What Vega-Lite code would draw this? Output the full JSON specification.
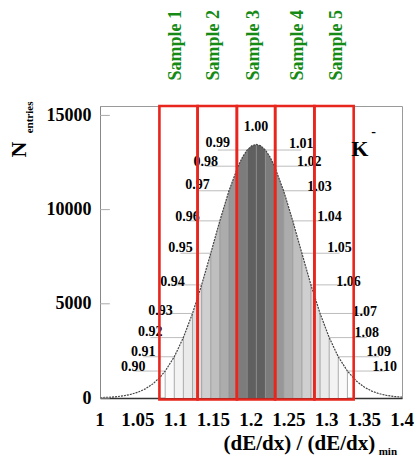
{
  "$schema": "https://vega.github.io/schema/vega-lite/v6.json",
  "width": 302,
  "height": 292,
  "autosize": {"type": "none"},
  "padding": {"left": 100, "top": 106, "right": 17, "bottom": 71},
  "background": "white",
  "config": {
    "view": {"stroke": "#9a9a9a", "strokeWidth": 1},
    "font": "Liberation Serif",
    "axis": {"labelFont": "Liberation Serif", "labelFontWeight": "bold", "labelColor": "#000", "grid": false, "ticks": false}
  },
  "datasets": {
    "curve": [
      {"x": 1.00, "y": 18}, {"x": 1.01, "y": 34}, {"x": 1.02, "y": 62}, {"x": 1.03, "y": 108},
      {"x": 1.04, "y": 184}, {"x": 1.05, "y": 303}, {"x": 1.06, "y": 484}, {"x": 1.07, "y": 749},
      {"x": 1.08, "y": 1125}, {"x": 1.0863, "y": 1430}, {"x": 1.0984, "y": 2189}, {"x": 1.1104, "y": 3206},
      {"x": 1.1225, "y": 4487}, {"x": 1.1346, "y": 6005}, {"x": 1.1467, "y": 7685}, {"x": 1.1587, "y": 9403},
      {"x": 1.1708, "y": 11000}, {"x": 1.1829, "y": 12305}, {"x": 1.1889, "y": 12798}, {"x": 1.1949, "y": 13162},
      {"x": 1.2010, "y": 13385}, {"x": 1.2070, "y": 13460}, {"x": 1.2130, "y": 13385}, {"x": 1.2191, "y": 13162},
      {"x": 1.2251, "y": 12798}, {"x": 1.2311, "y": 12305}, {"x": 1.2432, "y": 11000}, {"x": 1.2553, "y": 9403},
      {"x": 1.2674, "y": 7685}, {"x": 1.2794, "y": 6005}, {"x": 1.2915, "y": 4487}, {"x": 1.3036, "y": 3206},
      {"x": 1.3156, "y": 2189}, {"x": 1.3277, "y": 1430}, {"x": 1.34, "y": 885}, {"x": 1.35, "y": 579},
      {"x": 1.36, "y": 367}, {"x": 1.37, "y": 226}, {"x": 1.38, "y": 134}, {"x": 1.39, "y": 78}, {"x": 1.40, "y": 44}
    ],
    "bands": [
      {"band": "0.90", "x": 1.0863, "y": 1430}, {"band": "0.90", "x": 1.0984, "y": 2189},
      {"band": "0.91", "x": 1.0984, "y": 2189}, {"band": "0.91", "x": 1.1104, "y": 3206},
      {"band": "0.92", "x": 1.1104, "y": 3206}, {"band": "0.92", "x": 1.1225, "y": 4487},
      {"band": "0.93", "x": 1.1225, "y": 4487}, {"band": "0.93", "x": 1.1346, "y": 6005},
      {"band": "0.94", "x": 1.1346, "y": 6005}, {"band": "0.94", "x": 1.1467, "y": 7685},
      {"band": "0.95", "x": 1.1467, "y": 7685}, {"band": "0.95", "x": 1.1587, "y": 9403},
      {"band": "0.96", "x": 1.1587, "y": 9403}, {"band": "0.96", "x": 1.1708, "y": 11000},
      {"band": "0.97", "x": 1.1708, "y": 11000}, {"band": "0.97", "x": 1.1829, "y": 12305},
      {"band": "0.98", "x": 1.1829, "y": 12305}, {"band": "0.98", "x": 1.1889, "y": 12798}, {"band": "0.98", "x": 1.1949, "y": 13162},
      {"band": "0.99", "x": 1.1949, "y": 13162}, {"band": "0.99", "x": 1.2010, "y": 13385}, {"band": "0.99", "x": 1.2070, "y": 13460},
      {"band": "1.00", "x": 1.2070, "y": 13460}, {"band": "1.00", "x": 1.2130, "y": 13385}, {"band": "1.00", "x": 1.2191, "y": 13162},
      {"band": "1.01", "x": 1.2191, "y": 13162}, {"band": "1.01", "x": 1.2251, "y": 12798}, {"band": "1.01", "x": 1.2311, "y": 12305},
      {"band": "1.02", "x": 1.2311, "y": 12305}, {"band": "1.02", "x": 1.2432, "y": 11000},
      {"band": "1.03", "x": 1.2432, "y": 11000}, {"band": "1.03", "x": 1.2553, "y": 9403},
      {"band": "1.04", "x": 1.2553, "y": 9403}, {"band": "1.04", "x": 1.2674, "y": 7685},
      {"band": "1.05", "x": 1.2674, "y": 7685}, {"band": "1.05", "x": 1.2794, "y": 6005},
      {"band": "1.06", "x": 1.2794, "y": 6005}, {"band": "1.06", "x": 1.2915, "y": 4487},
      {"band": "1.07", "x": 1.2915, "y": 4487}, {"band": "1.07", "x": 1.3036, "y": 3206},
      {"band": "1.08", "x": 1.3036, "y": 3206}, {"band": "1.08", "x": 1.3156, "y": 2189},
      {"band": "1.09", "x": 1.3156, "y": 2189}, {"band": "1.09", "x": 1.3277, "y": 1430}
    ],
    "kpts": [
      {"k": "0.90", "xk": 1.0863, "hk": 1430, "lx": 1.044, "ly": 1649},
      {"k": "0.91", "xk": 1.0984, "hk": 2189, "lx": 1.0573, "ly": 2447},
      {"k": "0.92", "xk": 1.1104, "hk": 3206, "lx": 1.0667, "ly": 3511},
      {"k": "0.93", "xk": 1.1225, "hk": 4487, "lx": 1.08, "ly": 4628},
      {"k": "0.94", "xk": 1.1346, "hk": 6005, "lx": 1.096, "ly": 6170},
      {"k": "0.95", "xk": 1.1467, "hk": 7685, "lx": 1.1067, "ly": 7979},
      {"k": "0.96", "xk": 1.1587, "hk": 9403, "lx": 1.116, "ly": 9628},
      {"k": "0.97", "xk": 1.1708, "hk": 11000, "lx": 1.1293, "ly": 11330},
      {"k": "0.98", "xk": 1.1829, "hk": 12305, "lx": 1.14, "ly": 12553},
      {"k": "0.99", "xk": 1.1949, "hk": 13162, "lx": 1.156, "ly": 13511},
      {"k": "1.00", "xk": 1.2070, "hk": 13460, "lx": 1.2067, "ly": 14362},
      {"k": "1.01", "xk": 1.2191, "hk": 13162, "lx": 1.2667, "ly": 13457},
      {"k": "1.02", "xk": 1.2311, "hk": 12305, "lx": 1.2773, "ly": 12553},
      {"k": "1.03", "xk": 1.2432, "hk": 11000, "lx": 1.2907, "ly": 11223},
      {"k": "1.04", "xk": 1.2553, "hk": 9403, "lx": 1.304, "ly": 9628},
      {"k": "1.05", "xk": 1.2674, "hk": 7685, "lx": 1.3173, "ly": 7979},
      {"k": "1.06", "xk": 1.2794, "hk": 6005, "lx": 1.3293, "ly": 6170},
      {"k": "1.07", "xk": 1.2915, "hk": 4487, "lx": 1.3507, "ly": 4574},
      {"k": "1.08", "xk": 1.3036, "hk": 3206, "lx": 1.3533, "ly": 3457},
      {"k": "1.09", "xk": 1.3156, "hk": 2189, "lx": 1.3693, "ly": 2447},
      {"k": "1.10", "xk": 1.3277, "hk": 1430, "lx": 1.3773, "ly": 1649}
    ],
    "samples": [
      {"s": "Sample 1", "x1": 1.0787, "x2": 1.1293, "tx": 1.100, "ytop": 15500, "ybot": -80, "ty": 18720},
      {"s": "Sample 2", "x1": 1.1293, "x2": 1.1813, "tx": 1.1507, "ytop": 15500, "ybot": -80, "ty": 18720},
      {"s": "Sample 3", "x1": 1.1813, "x2": 1.2320, "tx": 1.204, "ytop": 15500, "ybot": -80, "ty": 18720},
      {"s": "Sample 4", "x1": 1.2320, "x2": 1.2840, "tx": 1.2627, "ytop": 15500, "ybot": -80, "ty": 18720},
      {"s": "Sample 5", "x1": 1.2840, "x2": 1.3360, "tx": 1.3133, "ytop": 15500, "ybot": -80, "ty": 18720}
    ],
    "xlabels": [
      {"v": 1.00, "lab": "1", "ly": -1170}, {"v": 1.05, "lab": "1.05", "ly": -1170}, {"v": 1.10, "lab": "1.1", "ly": -1170},
      {"v": 1.15, "lab": "1.15", "ly": -1170}, {"v": 1.20, "lab": "1.2", "ly": -1170}, {"v": 1.25, "lab": "1.25", "ly": -1170},
      {"v": 1.30, "lab": "1.3", "ly": -1170}, {"v": 1.35, "lab": "1.35", "ly": -1170}, {"v": 1.40, "lab": "1.4", "ly": -1170}
    ],
    "yticks": [{"y": 0, "x1": 1, "x2": 1.013}, {"y": 5000, "x1": 1, "x2": 1.013}, {"y": 10000, "x1": 1, "x2": 1.013}, {"y": 15000, "x1": 1, "x2": 1.013}]
  },
  "layer": [
    {
      "data": {"name": "bands"},
      "mark": {"type": "area", "strokeWidth": 0},
      "encoding": {
        "x": {"field": "x", "type": "quantitative", "title": null, "scale": {"domain": [1, 1.4], "nice": false, "zero": false},
              "axis": {"labels": false, "domainColor": "#333", "domainWidth": 1.5}},
        "y": {"field": "y", "type": "quantitative", "title": null, "stack": null, "scale": {"domain": [0, 15500], "nice": false},
              "axis": {"values": [0, 5000, 10000, 15000], "format": "d", "labelFontSize": 18, "labelPadding": 9, "domainColor": "#888", "labelBaseline": "middle"}},
        "color": {"field": "band", "type": "nominal", "legend": null,
                  "scale": {"domain": ["0.90","0.91","0.92","0.93","0.94","0.95","0.96","0.97","0.98","0.99","1.00","1.01","1.02","1.03","1.04","1.05","1.06","1.07","1.08","1.09"],
                            "range": ["#fafafa","#f3f3f3","#eaeaea","#dedede","#cfcfcf","#bfbfbf","#acacac","#979797","#7c7c7c","#606060","#606060","#7c7c7c","#979797","#acacac","#bfbfbf","#cfcfcf","#dedede","#eaeaea","#f3f3f3","#fafafa"]}}
      }
    },
    {
      "data": {"name": "kpts"},
      "mark": {"type": "rule", "color": "#8a8a8a", "strokeWidth": 1, "opacity": 0.7},
      "encoding": {
        "x": {"field": "xk", "type": "quantitative", "title": null},
        "y": {"field": "hk", "type": "quantitative", "title": null},
        "y2": {"datum": 0}
      }
    },
    {
      "data": {"name": "kpts"},
      "mark": {"type": "rule", "color": "#bdbdbd", "strokeWidth": 1},
      "encoding": {
        "x": {"field": "lx", "type": "quantitative", "title": null},
        "x2": {"field": "xk"},
        "y": {"field": "hk", "type": "quantitative", "title": null}
      }
    },
    {
      "data": {"name": "curve"},
      "mark": {"type": "line", "color": "#444", "strokeWidth": 1.2, "strokeDash": [2, 1]},
      "encoding": {
        "x": {"field": "x", "type": "quantitative", "title": null},
        "y": {"field": "y", "type": "quantitative", "title": null}
      }
    },
    {
      "data": {"name": "kpts"},
      "mark": {"type": "text", "font": "Liberation Serif", "fontWeight": "bold", "fontSize": 14, "color": "#000", "align": "center", "baseline": "middle"},
      "encoding": {
        "x": {"field": "lx", "type": "quantitative", "title": null},
        "y": {"field": "ly", "type": "quantitative", "title": null},
        "text": {"field": "k"}
      }
    },
    {
      "data": {"name": "yticks"},
      "mark": {"type": "rule", "color": "#aaa", "strokeWidth": 1},
      "encoding": {
        "x": {"field": "x1", "type": "quantitative", "title": null},
        "x2": {"field": "x2"},
        "y": {"field": "y", "type": "quantitative", "title": null}
      }
    },
    {
      "data": {"name": "xlabels"},
      "mark": {"type": "text", "font": "Liberation Serif", "fontWeight": "bold", "fontSize": 19, "color": "#000", "align": "center", "baseline": "middle"},
      "encoding": {
        "x": {"field": "v", "type": "quantitative", "title": null},
        "y": {"field": "ly", "type": "quantitative", "title": null},
        "text": {"field": "lab"}
      }
    },
    {
      "data": {"name": "samples"},
      "mark": {"type": "rect", "filled": false, "stroke": "#e8261e", "strokeWidth": 2.6},
      "encoding": {
        "x": {"field": "x1", "type": "quantitative", "title": null},
        "x2": {"field": "x2"},
        "y": {"field": "ytop", "type": "quantitative", "title": null},
        "y2": {"field": "ybot"}
      }
    },
    {
      "data": {"name": "samples"},
      "mark": {"type": "text", "font": "Liberation Serif", "fontWeight": "bold", "fontSize": 18, "color": "#158a15", "angle": 270, "align": "center", "baseline": "middle"},
      "encoding": {
        "x": {"field": "tx", "type": "quantitative", "title": null},
        "y": {"field": "ty", "type": "quantitative", "title": null},
        "text": {"field": "s"}
      }
    },
    {
      "data": {"values": [
        {"t": "K", "x": 1.344, "y": 13200, "fs": 22},
        {"t": "-", "x": 1.3625, "y": 14100, "fs": 14}
      ]},
      "mark": {"type": "text", "font": "Liberation Serif", "fontWeight": "bold", "color": "#000", "align": "center", "baseline": "middle"},
      "encoding": {
        "x": {"field": "x", "type": "quantitative", "title": null},
        "y": {"field": "y", "type": "quantitative", "title": null},
        "text": {"field": "t"},
        "size": {"field": "fs", "type": "quantitative", "scale": null, "legend": null}
      }
    },
    {
      "data": {"values": [
        {"t": "(dE/dx) / (dE/dx)", "x": 1.264, "y": -2450, "fs": 21},
        {"t": "min", "x": 1.3813, "y": -2850, "fs": 11}
      ]},
      "mark": {"type": "text", "font": "Liberation Serif", "fontWeight": "bold", "color": "#000", "align": "center", "baseline": "middle"},
      "encoding": {
        "x": {"field": "x", "type": "quantitative", "title": null},
        "y": {"field": "y", "type": "quantitative", "title": null},
        "text": {"field": "t"},
        "size": {"field": "fs", "type": "quantitative", "scale": null, "legend": null}
      }
    },
    {
      "data": {"values": [
        {"t": "N", "x": 0.8933, "y": 13191, "fs": 22},
        {"t": "entries", "x": 0.9067, "y": 14894, "fs": 11}
      ]},
      "mark": {"type": "text", "font": "Liberation Serif", "fontWeight": "bold", "color": "#000", "align": "center", "baseline": "middle", "angle": 270},
      "encoding": {
        "x": {"field": "x", "type": "quantitative", "title": null},
        "y": {"field": "y", "type": "quantitative", "title": null},
        "text": {"field": "t"},
        "size": {"field": "fs", "type": "quantitative", "scale": null, "legend": null}
      }
    }
  ]
}
